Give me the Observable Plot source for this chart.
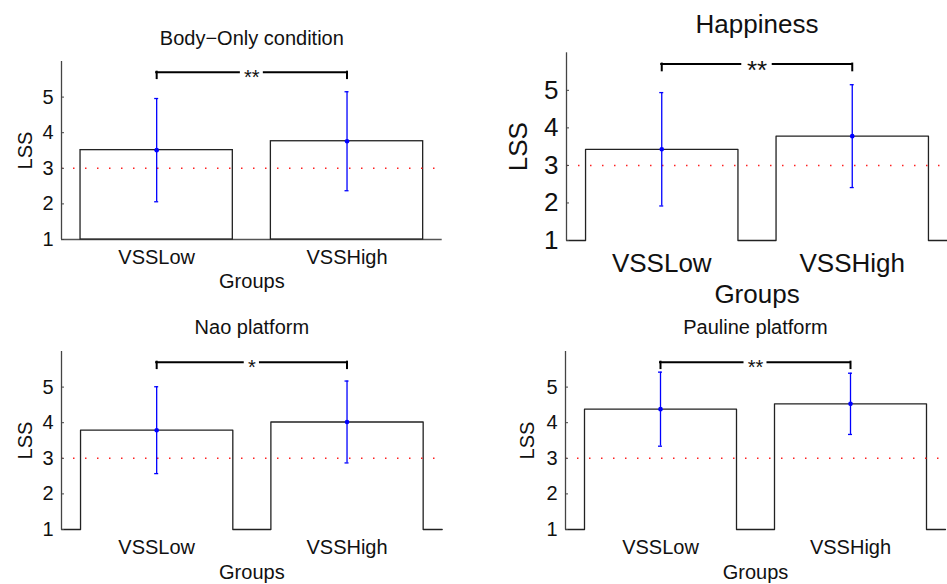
<!DOCTYPE html>
<html>
<head>
<meta charset="utf-8">
<script src="https://cdn.jsdelivr.net/npm/d3@7"></script>
<script src="https://cdn.jsdelivr.net/npm/@observablehq/plot@0.6"></script>
<style>
  html, body { margin: 0; padding: 0; background: white; }
  #chart { position: relative; width: 947px; height: 584px; overflow: hidden; background: white; }
  .panel { position: absolute; }
</style>
</head>
<body>
<div id="chart"></div>
<script>
// ---- data ----
const groups = ["VSSLow", "VSSHigh"];
const groupX = [1, 2];
const panelTitles = ["Body−Only condition", "Happiness", "Nao platform", "Pauline platform"];
const bodyOnlyMean = [3.51, 3.76];
const bodyOnlySD = [1.45, 1.39];
const happinessMean = [3.43, 3.78];
const happinessSD = [1.51, 1.37];
const naoMean = [3.79, 4.02];
const naoSD = [1.22, 1.15];
const paulineMean = [4.38, 4.53];
const paulineSD = [1.04, 0.86];
const significance = ["**", "**", "*", "**"];
const yTicks = [1, 2, 3, 4, 5];
const yDomain = [1, 6];
const xDomain = [0.5, 2.5];
const chanceLevel = 3;
const bracketLevel = 5.7;
const xLabel = "Groups";
const yLabel = "LSS";

const seriesMeans = [bodyOnlyMean, happinessMean, naoMean, paulineMean];
const seriesSDs = [bodyOnlySD, happinessSD, naoSD, paulineSD];

// ---- layout (positions / styles) ----
const layouts = [
  {left: 0,   top: 0,   width: 470, height: 300, ml: 61, mr: 28.3, mt: 61,   mb: 61, font: 20, titleBase: 44,   tickPad: 10, xLabelBase: 287.3, yLabelBase: 31.7, style: "rect"},
  {left: 470, top: 0,   width: 477, height: 310, ml: 96, mr: 0,    mt: 52.3, mb: 70, font: 26, titleBase: 32,   tickPad: 13, xLabelBase: 302,   yLabelBase: 56.7, style: "step"},
  {left: 0,   top: 300, width: 470, height: 284, ml: 61, mr: 28.3, mt: 51,   mb: 55, font: 20, titleBase: 33.3, tickPad: 10, xLabelBase: 278.3, yLabelBase: 31.7, style: "step"},
  {left: 470, top: 300, width: 477, height: 284, ml: 95, mr: 2,    mt: 51,   mb: 55, font: 20, titleBase: 33.3, tickPad: 10, xLabelBase: 278.3, yLabelBase: 63.3, style: "step"}
];

const BAR_HALF = 0.4;
const FONT = "'Liberation Sans', Arial, Helvetica, sans-serif";
const BLUE = "#0000ff";

function makePanel(i) {
  const L = layouts[i];
  const bars = groupX.map((x, j) => ({x, name: groups[j], mean: seriesMeans[i][j], sd: seriesSDs[i][j]}));
  const frameW = L.width - L.ml - L.mr;
  const pxPerUnit = frameW / (xDomain[1] - xDomain[0]);
  const capHalf = 2 / pxPerUnit;
  const caps = bars.flatMap(d => [{x: d.x, v: d.mean - d.sd}, {x: d.x, v: d.mean + d.sd}]);
  const sig = significance[i];
  const gapHalf = L.font * (0.389 * sig.length / 2 + 0.235) / pxPerUnit;
  const mid = (groupX[0] + groupX[1]) / 2;
  const bracketSegs = [{x1: groupX[0], x2: mid - gapHalf}, {x1: mid + gapHalf, x2: groupX[1]}];

  const marks = [];
  if (L.style === "rect") {
    marks.push(Plot.ruleY([yDomain[0]], {x1: xDomain[0], x2: xDomain[1], stroke: "#555", strokeWidth: 1.3}));
    marks.push(Plot.rect(bars, {x1: d => d.x - BAR_HALF, x2: d => d.x + BAR_HALF, y1: yDomain[0], y2: "mean", fill: "white", stroke: "#222", strokeWidth: 1.3}));
  } else {
    const outline = [{x: xDomain[0], y: yDomain[0]}];
    for (const d of bars) {
      outline.push({x: d.x - BAR_HALF, y: yDomain[0]}, {x: d.x - BAR_HALF, y: d.mean},
                   {x: d.x + BAR_HALF, y: d.mean}, {x: d.x + BAR_HALF, y: yDomain[0]});
    }
    outline.push({x: xDomain[1], y: yDomain[0]});
    marks.push(Plot.line(outline, {x: "x", y: "y", stroke: "#222", strokeWidth: 1.3}));
  }
  // chance level
  marks.push(Plot.ruleY([chanceLevel], {stroke: "#ff2020", strokeWidth: 1.5, strokeDasharray: "1.5,10.5"}));
  // y axis line
  marks.push(Plot.ruleX([xDomain[0]], {y1: yDomain[0], y2: yDomain[1], stroke: "#444", strokeWidth: 1.3}));
  // axes
  marks.push(Plot.axisY(yTicks, {anchor: "left", tickSize: -3, tickPadding: 11, fontSize: L.font, label: null, stroke: "#444", fill: "#111"}));
  marks.push(Plot.axisX(groupX, {anchor: "bottom", tickSize: 0, tickPadding: L.tickPad, fontSize: L.font, label: null, tickFormat: d => groups[d - 1], fill: "#111"}));
  // error bars
  marks.push(Plot.ruleX(bars, {x: "x", y1: d => d.mean - d.sd, y2: d => d.mean + d.sd, stroke: BLUE, strokeWidth: 1.3}));
  marks.push(Plot.ruleY(caps, {y: "v", x1: d => d.x - capHalf, x2: d => d.x + capHalf, stroke: BLUE, strokeWidth: 1.3}));
  marks.push(Plot.dot(bars, {x: "x", y: "mean", r: 2.3, fill: BLUE, stroke: "none"}));
  // significance bracket
  marks.push(Plot.ruleY(bracketSegs, {y: bracketLevel, x1: "x1", x2: "x2", stroke: "black", strokeWidth: 2, strokeLinecap: "square"}));
  marks.push(Plot.ruleX(groupX, {x: d => d, y1: bracketLevel - 0.18, y2: bracketLevel, stroke: "black", strokeWidth: 2, strokeLinecap: "square"}));
  marks.push(Plot.text([sig], {x: mid, y: bracketLevel, text: d => d, dy: 0.57 * L.font, lineAnchor: "bottom", fontSize: L.font, fill: "#111"}));
  // titles
  marks.push(Plot.text([panelTitles[i]], {frameAnchor: "top", text: d => d, dy: L.titleBase - L.mt, lineAnchor: "bottom", fontSize: L.font, fill: "#111"}));
  marks.push(Plot.text([xLabel], {frameAnchor: "bottom", text: d => d, dy: L.xLabelBase - (L.height - L.mb), lineAnchor: "bottom", fontSize: L.font, fill: "#111"}));
  marks.push(Plot.text([yLabel], {frameAnchor: "left", text: d => d, dx: L.yLabelBase - L.ml, rotate: -90, lineAnchor: "bottom", textAnchor: "middle", fontSize: L.font, fill: "#111"}));

  const svg = Plot.plot({
    width: L.width,
    height: L.height,
    marginLeft: L.ml,
    marginRight: L.mr,
    marginTop: L.mt,
    marginBottom: L.mb,
    style: {background: "transparent", overflow: "visible", fontFamily: FONT, color: "#111"},
    x: {type: "linear", domain: xDomain},
    y: {type: "linear", domain: yDomain},
    marks
  });
  const wrap = document.createElement("div");
  wrap.className = "panel";
  wrap.style.left = L.left + "px";
  wrap.style.top = L.top + "px";
  wrap.appendChild(svg);
  return wrap;
}

const chart = document.getElementById("chart");
for (const i of [2, 3, 0, 1]) chart.appendChild(makePanel(i));
</script>
</body>
</html>
